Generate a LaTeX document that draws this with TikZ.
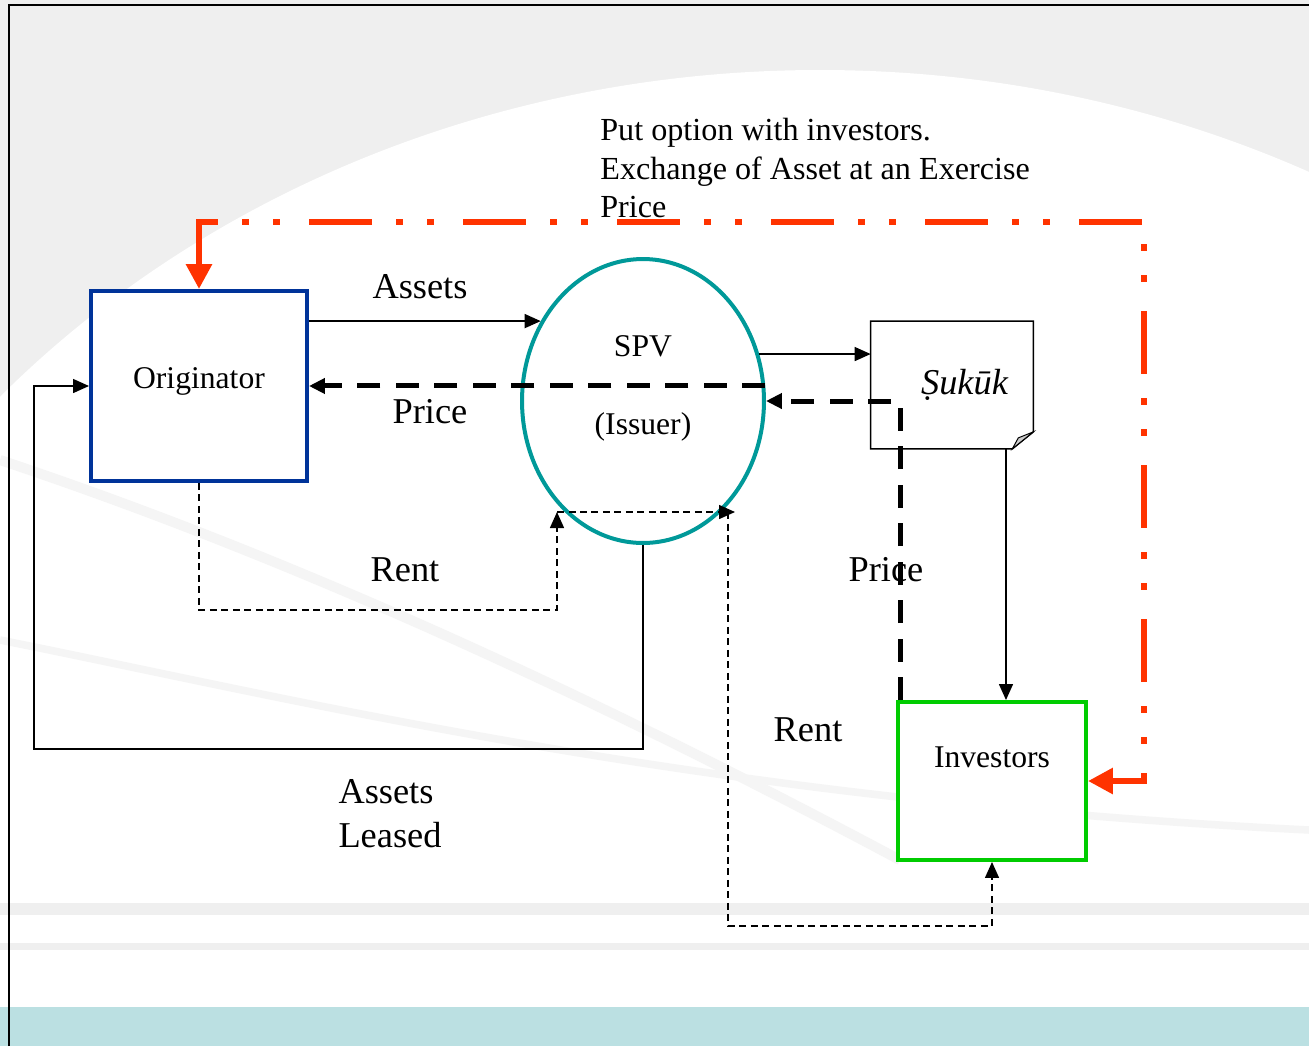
\documentclass[tikz,border=0pt]{standalone}
\usepackage{fontspec}
\setmainfont{Liberation Serif}
\usetikzlibrary{arrows.meta, shapes.geometric}
\definecolor{OrigBlue}{HTML}{003399}
\definecolor{SpvTeal}{HTML}{009999}
\definecolor{InvGreen}{HTML}{00CC00}
\definecolor{PutRed}{HTML}{FF3300}
\definecolor{BandTeal}{HTML}{BBE0E2}
\definecolor{BackGray}{HTML}{EFEFEF}
\definecolor{SwooshGray}{HTML}{F5F5F5}

\begin{document}
\begin{tikzpicture}[
  x=0.02cm, y=-0.02cm,
  party/.style={
    draw, line width=0.08cm, fill=white,
    align=center, font=\fontsize{18}{22}\selectfont
  },
  origbox/.style={party, draw=OrigBlue, minimum width=4.32cm, minimum height=3.8cm},
  invbox/.style={party, draw=InvGreen, minimum width=3.76cm, minimum height=3.16cm},
  spvell/.style={party, ellipse, draw=SpvTeal, inner sep=0pt,
    minimum width=4.84cm, minimum height=5.68cm},
  docbox/.style={minimum width=3.24cm, minimum height=2.54cm,
    font=\fontsize{20.7}{25}\selectfont\itshape},
  lbl/.style={font=\fontsize{20.7}{25}\selectfont, inner sep=1pt, fill=white, align=left},
  arr/.style={-{Triangle[length=0.32cm, width=0.28cm]}, line width=0.03cm},
  rentarr/.style={arr, dash pattern=on 0.14cm off 0.09cm},
  pricearr/.style={-{Triangle[length=0.32cm, width=0.3cm]}, line width=0.1cm,
    dash pattern=on 0.46cm off 0.31cm},
  putarr/.style={{Triangle[length=0.5cm, width=0.5cm]}-{Triangle[length=0.5cm, width=0.5cm]},
    PutRed, line width=0.12cm,
    dash pattern=on 1.26cm off 0.48cm on 0.14cm off 0.48cm on 0.14cm off 0.58cm}
]
  % background
  \useasboundingbox (0,0) rectangle (1309,1046);
  \fill[BackGray] (0,0) rectangle (1309,1007);
  \fill[white] (820,1050) ellipse [x radius=1100, y radius=980];
  \fill[BackGray] (0,903) rectangle (1309,915);
  \fill[BackGray] (0,943) rectangle (1309,950);
  \draw[SwooshGray, line width=0.2cm] (0,460) .. controls (300,560) and (600,700) .. (900,860);
  \draw[SwooshGray, line width=0.15cm] (0,640) .. controls (300,700) and (700,800) .. (1309,830);
  \fill[BandTeal] (0,1007) rectangle (1309,1046);
  \draw[line width=0.04cm] (9,1046) -- (9,5) -- (1309,5);

  % parties
  \node[origbox] (orig) at (199,386) {\raisebox{0.32cm}{Originator}};
  \node[spvell] (spv) at (643,401) {SPV\\[0.78cm](Issuer)\rule[-0.65cm]{0pt}{0pt}};
  \node[docbox] (sukuk) at (952,385) {};
  \fill[white] (sukuk.north west) -- (sukuk.north east) -- ([yshift=0.34cm]sukuk.south east)
    -- ([xshift=-0.42cm]sukuk.south east) -- (sukuk.south west) -- cycle;
  \node[docbox] (sukuktxt) at (sukuk) {\hspace{0.5cm}Ṣukūk};
  \draw[line width=0.03cm] (sukuk.north west) -- (sukuk.north east) -- ([yshift=0.34cm]sukuk.south east)
    -- ([xshift=-0.42cm]sukuk.south east) -- (sukuk.south west) -- cycle;
  \filldraw[fill=gray!40, line width=0.02cm] ([yshift=0.34cm]sukuk.south east)
    -- ([xshift=-0.42cm]sukuk.south east) -- ([xshift=-0.3cm, yshift=0.22cm]sukuk.south east) -- cycle;
  \node[invbox] (inv) at (992,781) {\raisebox{0.96cm}{Investors}};

  % labels
  \node[lbl] (assetslbl) at (420,287) {Assets};
  \node[lbl] (pricelbl) at (430,412) {Price};
  \node[lbl] (rentlbl) at (405,570) {Rent};
  \node[lbl] (leasedlbl) at (390,814) {Assets\\Leased};
  \node[lbl] (price2lbl) at (886,570) {Price};
  \node[lbl] (rent2lbl) at (808,730) {Rent};
  \node[anchor=west, align=left, inner sep=0pt, font=\fontsize{18.3}{21.9}\selectfont]
    (putlbl) at (600,168) {Put option with investors.\\Exchange of Asset at an Exercise\\Price};

  % flows
  \coordinate (rentL) at (557,512);
  \coordinate (rentR) at (735,512);
  \draw[arr] (orig.east |- spv.142) -- (spv.142);
  \draw[pricearr] (spv.7) -- (orig.east |- spv.7);
  \draw[arr] (spv.22) -- (sukuk.west |- spv.22);
  \draw[pricearr] ([xshift=0.08cm]inv.north west) |- (spv.east);
  \draw[arr] ([xshift=1.08cm]sukuk.south) -- ([xshift=1.08cm]sukuk.south |- inv.north);
  \draw[rentarr] (orig.south) -- ++(0,127) -| (rentL);
  \draw[rentarr] (rentL) -- (rentR);
  \draw[rentarr] ([xshift=-0.14cm]rentR) -- ++(0,414) -| (inv.south);
  \draw[arr] (spv.south) -- ++(0,204) -| ([xshift=-1.1cm]orig.west) -- (orig.west);
  \draw[putarr] (orig.north) -- ++(0,-67) -| ([xshift=1.12cm]inv.east) -- (inv.east);
\end{tikzpicture}
\end{document}
